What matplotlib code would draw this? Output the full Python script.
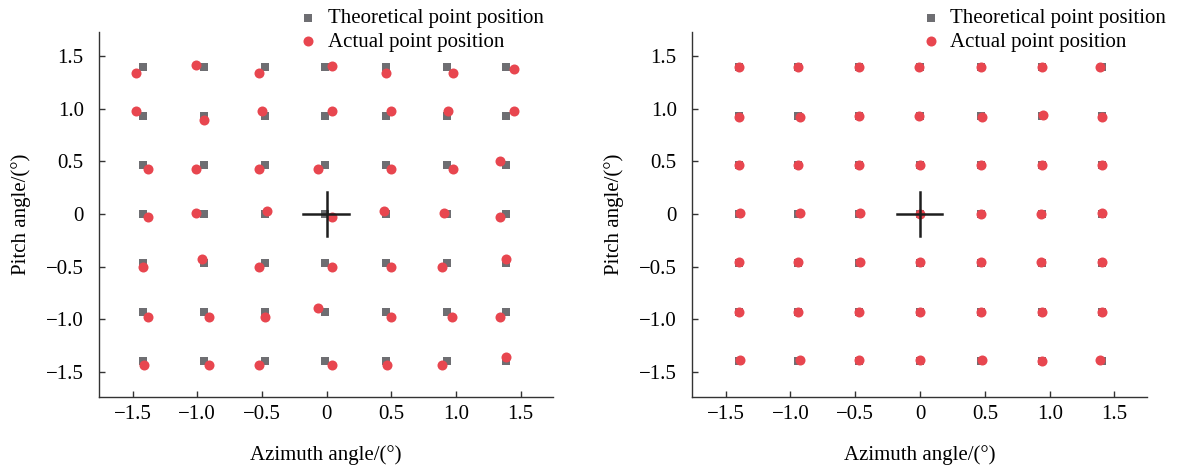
import matplotlib
matplotlib.use("Agg")
import matplotlib.pyplot as plt
import numpy as np
from matplotlib.ticker import FuncFormatter

plt.rcParams['font.family'] = ['Liberation Serif', 'DejaVu Serif']
plt.rcParams['font.size'] = 15

# theoretical grid (azimuth / pitch)
left_theo_x = [-1.42, -0.95, -0.48, -0.01, 0.46, 0.93, 1.39]
right_theo_x = [-1.40, -0.94, -0.47, 0.00, 0.47, 0.94, 1.40]
theo_y = [1.40, 0.93, 0.47, 0.00, -0.47, -0.93, -1.40]

# actual points, left panel (row by row, top to bottom)
left_act_x = [
    [-1.47, -1.01, -0.52, 0.04, 0.46, 0.98, 1.45],
    [-1.47, -0.95, -0.50, 0.04, 0.50, 0.94, 1.45],
    [-1.38, -1.01, -0.52, -0.07, 0.50, 0.98, 1.34],
    [-1.38, -1.01, -0.46, 0.04, 0.44, 0.91, 1.34],
    [-1.42, -0.96, -0.52, 0.04, 0.50, 0.89, 1.39],
    [-1.38, -0.91, -0.48, -0.07, 0.50, 0.97, 1.34],
    [-1.41, -0.91, -0.52, 0.04, 0.47, 0.89, 1.39],
]
left_act_y = [
    [1.34, 1.42, 1.34, 1.41, 1.34, 1.34, 1.38],
    [0.98, 0.89, 0.98, 0.98, 0.98, 0.98, 0.98],
    [0.43, 0.43, 0.43, 0.43, 0.43, 0.43, 0.50],
    [-0.03, 0.01, 0.03, -0.03, 0.03, 0.01, -0.03],
    [-0.50, -0.43, -0.50, -0.50, -0.50, -0.50, -0.43],
    [-0.98, -0.98, -0.98, -0.89, -0.98, -0.98, -0.98],
    [-1.44, -1.44, -1.44, -1.44, -1.44, -1.44, -1.36],
]

# actual points, right panel (after correction)
right_act_x = [
    [-1.40, -0.94, -0.47, -0.01, 0.47, 0.94, 1.39],
    [-1.40, -0.93, -0.47, -0.01, 0.48, 0.95, 1.40],
    [-1.40, -0.94, -0.47, 0.00, 0.47, 0.94, 1.40],
    [-1.39, -0.93, -0.46, 0.00, 0.47, 0.93, 1.40],
    [-1.40, -0.94, -0.46, 0.00, 0.47, 0.93, 1.40],
    [-1.40, -0.94, -0.47, 0.00, 0.47, 0.94, 1.40],
    [-1.39, -0.93, -0.47, 0.00, 0.48, 0.94, 1.39],
]
right_act_y = [
    [1.40, 1.40, 1.40, 1.40, 1.40, 1.40, 1.40],
    [0.92, 0.92, 0.93, 0.93, 0.92, 0.94, 0.92],
    [0.47, 0.47, 0.47, 0.47, 0.47, 0.47, 0.47],
    [0.01, 0.01, 0.01, 0.00, 0.00, 0.00, 0.01],
    [-0.46, -0.46, -0.46, -0.46, -0.46, -0.46, -0.46],
    [-0.93, -0.93, -0.93, -0.93, -0.93, -0.93, -0.93],
    [-1.39, -1.39, -1.39, -1.39, -1.39, -1.40, -1.39],
]

ticks = [-1.5, -1.0, -0.5, 0, 0.5, 1.0, 1.5]
GRAY = '#6e6e72'
RED = '#e8464f'


def fmt(v, pos):
    if abs(v) < 1e-9:
        return "0"
    return f"{v:.1f}".replace("-", "\u2212")


def draw_panel(ax, tx, ty, ax_x, ax_y, leg_anchor):
    gx, gy = np.meshgrid(tx, ty)
    ax.scatter(gx.ravel(), gy.ravel(), marker='s', s=40, color=GRAY,
               linewidths=0, label='Theoretical point position', zorder=2)
    ax.scatter(np.ravel(ax_x), np.ravel(ax_y), marker='o', s=52, color=RED,
               linewidths=0, label='Actual point position', zorder=3)
    # cross at the origin
    ax.plot([-0.18, 0.17], [0, 0], color='#1e1e1e', lw=1.8, zorder=4)
    ax.plot([0, 0], [-0.21, 0.21], color='#1e1e1e', lw=1.8, zorder=4)

    ax.set_xlim(-1.76, 1.75)
    ax.set_ylim(-1.74, 1.73)
    ax.set_xticks(ticks)
    ax.set_yticks(ticks)
    ax.xaxis.set_major_formatter(FuncFormatter(fmt))
    ax.yaxis.set_major_formatter(FuncFormatter(fmt))
    ax.tick_params(direction='in', length=4, width=1, color='#333333')
    ax.tick_params(axis='x', pad=6)
    ax.tick_params(axis='y', pad=11)
    for s in ['top', 'right']:
        ax.spines[s].set_visible(False)
    for s in ['left', 'bottom']:
        ax.spines[s].set_color('#333333')
        ax.spines[s].set_linewidth(1)
    ax.set_xlabel('Azimuth angle/(°)', labelpad=15)
    ax.set_ylabel('Pitch angle/(°)', labelpad=11)

    ax.legend(loc='upper left', bbox_to_anchor=leg_anchor,
              bbox_transform=fig.transFigure, frameon=False,
              handlelength=0.9, handletextpad=0.5, labelspacing=0.2,
              borderpad=0, borderaxespad=0, scatterpoints=1)


fig = plt.figure(figsize=(11.78, 4.69), dpi=100)
ax1 = fig.add_axes([0.084, 0.1535, 0.3854, 0.7783])
ax2 = fig.add_axes([0.5874, 0.1535, 0.3862, 0.7783])

draw_panel(ax1, left_theo_x, theo_y, left_act_x, left_act_y, (0.2538, 0.982))
draw_panel(ax2, right_theo_x, theo_y, right_act_x, right_act_y, (0.782, 0.982))

fig.savefig('out.png', dpi=100)
